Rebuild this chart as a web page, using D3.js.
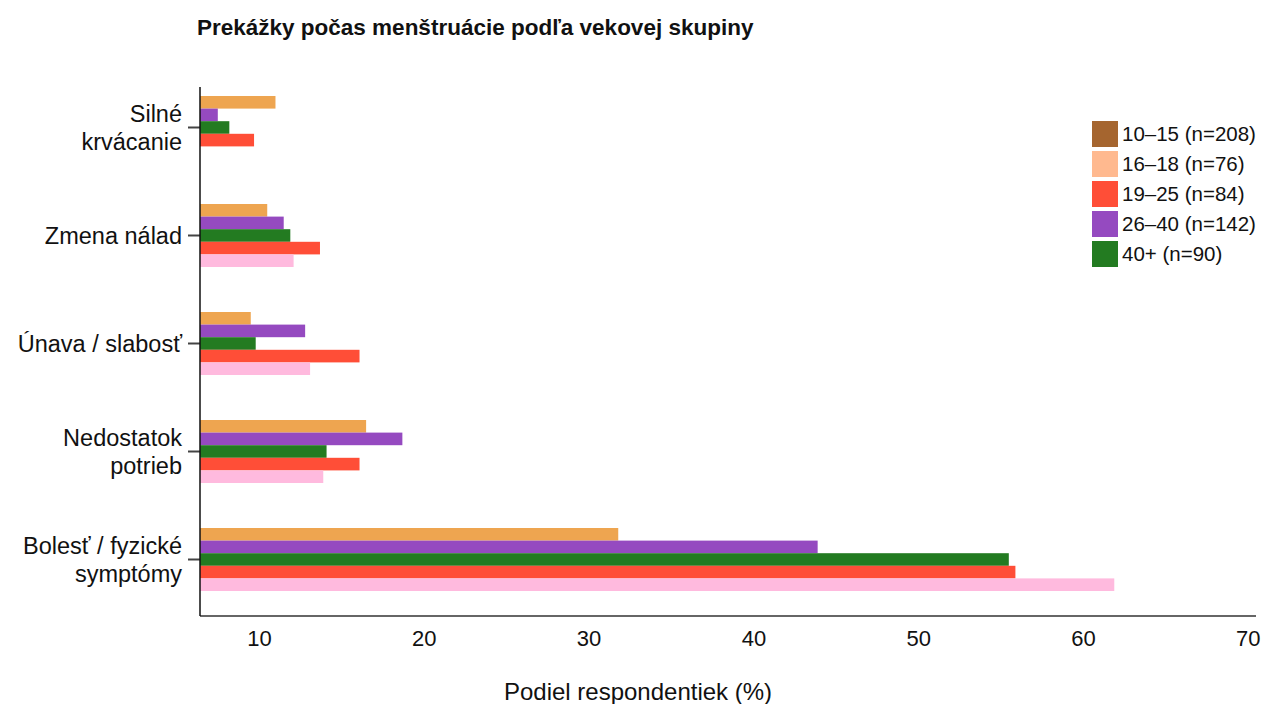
<!DOCTYPE html>
<html>
<head>
<meta charset="utf-8">
<script src="https://cdn.jsdelivr.net/npm/d3@7"></script>
<style>
  html, body { margin: 0; padding: 0; background: #fff; }
  svg { display: block; font-family: "Liberation Sans", Arial, sans-serif; }
</style>
</head>
<body>
<svg id="chart" width="1264" height="704"></svg>
<script>
// ---- data ----
const categories = ["Silné krvácanie", "Zmena nálad", "Únava / slabosť", "Nedostatok potrieb", "Bolesť / fyzické symptómy"];
const categoryLines = [["Silné", "krvácanie"], ["Zmena nálad"], ["Únava / slabosť"], ["Nedostatok", "potrieb"], ["Bolesť / fyzické", "symptómy"]];
const seriesNames = ["10–15 (n=208)", "16–18 (n=76)", "19–25 (n=84)", "26–40 (n=142)", "40+ (n=90)"];
const values1015 = [11.0, 10.5, 9.5, 16.5, 31.8];
const values1618 = [null, 12.1, 13.1, 13.9, 61.9];
const values1925 = [9.7, 13.7, 16.1, 16.1, 55.9];
const values2640 = [7.5, 11.5, 12.8, 18.7, 43.9];
const values40 = [8.2, 11.9, 9.8, 14.1, 55.5];
const xTicks = [10, 20, 30, 40, 50, 60, 70];
const xDomain = [6.42, 70.5];
const title = "Prekážky počas menštruácie podľa vekovej skupiny";
const xTitle = "Podiel respondentiek (%)";

// ---- styles ----
const barColors = {
  "10–15 (n=208)": "#eea550",
  "16–18 (n=76)": "#ffbade",
  "19–25 (n=84)": "#ff4e37",
  "26–40 (n=142)": "#954ac0",
  "40+ (n=90)": "#237b21"
};
const legendColors = {
  "10–15 (n=208)": "#a5652f",
  "16–18 (n=76)": "#ffb98f",
  "19–25 (n=84)": "#ff4e37",
  "26–40 (n=142)": "#954ac0",
  "40+ (n=90)": "#237b21"
};
// order of bars inside each group, top to bottom
const barOrder = ["10–15 (n=208)", "26–40 (n=142)", "40+ (n=90)", "19–25 (n=84)", "16–18 (n=76)"];

const seriesValues = {
  "10–15 (n=208)": values1015,
  "16–18 (n=76)": values1618,
  "19–25 (n=84)": values1925,
  "26–40 (n=142)": values2640,
  "40+ (n=90)": values40
};

const svg = d3.select("#chart");
const plotLeft = 200, plotRight = 1256, plotTop = 87, plotBottom = 616;

const x = d3.scaleLinear().domain(xDomain).range([plotLeft, plotRight]);
const y = d3.scaleBand().domain(categories).range([73.5, 613.5])
  .paddingInner(0.4167).paddingOuter(0.2083);
const yInner = d3.scaleBand().domain(barOrder).range([0, y.bandwidth()]);

// title
svg.append("text")
  .attr("x", 197).attr("y", 35)
  .attr("font-size", 22.5).attr("font-weight", "bold").attr("fill", "#111")
  .text(title);

// bars
const rows = [];
categories.forEach((c, i) => {
  barOrder.forEach(s => {
    const v = seriesValues[s][i];
    if (v != null) rows.push({ cat: c, series: s, value: v });
  });
});
svg.append("g").selectAll("rect").data(rows).join("rect")
  .attr("x", x(xDomain[0]))
  .attr("y", d => y(d.cat) + yInner(d.series))
  .attr("width", d => x(d.value) - x(xDomain[0]))
  .attr("height", yInner.bandwidth())
  .attr("fill", d => barColors[d.series]);

// x axis
const xAxis = d3.axisBottom(x).tickValues(xTicks).tickSize(0).tickPadding(14).tickFormat(d3.format("d"));
const gx = svg.append("g").attr("transform", `translate(0,${plotBottom})`).call(xAxis);
gx.select(".domain").remove();
gx.selectAll("text").attr("font-size", 22).attr("fill", "#111").attr("font-family", "Liberation Sans, Arial, sans-serif");
svg.append("line").attr("x1", plotLeft).attr("x2", plotRight).attr("y1", plotBottom).attr("y2", plotBottom)
  .attr("stroke", "#333").attr("stroke-width", 1.5);

// y axis
const yAxis = d3.axisLeft(y).tickSize(12).tickFormat("");
const gy = svg.append("g").attr("transform", `translate(${plotLeft},0)`).call(yAxis);
gy.select(".domain").remove();
gy.selectAll(".tick line").attr("stroke", "#444").attr("stroke-width", 2);
svg.append("line").attr("x1", plotLeft).attr("x2", plotLeft).attr("y1", plotTop).attr("y2", plotBottom)
  .attr("stroke", "#111").attr("stroke-width", 1.5);

// category labels
const labelG = svg.append("g");
categories.forEach((c, i) => {
  const lines = categoryLines[i];
  const cy = y(c) + y.bandwidth() / 2;
  const lh = 28;
  const t = labelG.append("text")
    .attr("text-anchor", "end").attr("font-size", 23.5).attr("fill", "#111");
  lines.forEach((ln, j) => {
    t.append("tspan").attr("x", 182)
      .attr("y", cy + (j - (lines.length - 1) / 2) * lh)
      .attr("dy", "0.35em").text(ln);
  });
});

// x title
svg.append("text")
  .attr("x", 638).attr("y", 700)
  .attr("text-anchor", "middle").attr("font-size", 24).attr("fill", "#111")
  .text(xTitle);

// legend
const legend = svg.append("g").attr("transform", "translate(1092,121)");
const li = legend.selectAll("g").data(seriesNames).join("g")
  .attr("transform", (d, i) => `translate(0,${i * 30})`);
li.append("rect").attr("width", 26).attr("height", 26).attr("fill", d => legendColors[d]);
li.append("text").attr("x", 30).attr("y", 13).attr("dy", "0.35em")
  .attr("font-size", 20.5).attr("fill", "#111").text(d => d);
</script>
</body>
</html>
